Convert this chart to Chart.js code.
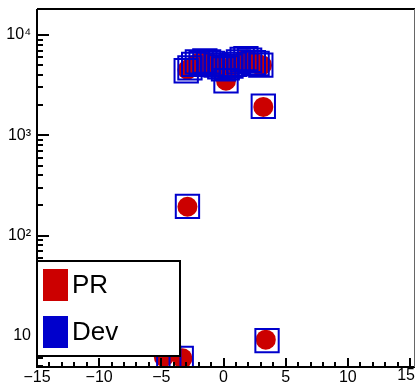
<!DOCTYPE html>
<html lang="en">
<head>
<meta charset="UTF-8">
<title>PR vs Dev</title>
<script src="https://cdn.jsdelivr.net/npm/chart.js"></script>
<style>
  html, body { margin: 0; padding: 0; background: #fff; }
  #grafico { display: block; }
</style>
</head>
<body>
<canvas id="grafico" width="416" height="383"></canvas>
<script>
// dati
const seriesNames = ['PR', 'Dev'];
const prX = [-2.9, -2.6, -2.3, -2.0, -1.7, -1.4, -1.1, -0.8, -0.5, -0.2, 0.1, 0.4, 0.7, 1.0, 1.3, 1.6, 1.9, 2.2, 2.5, 2.8, 3.1,
             0.2, 3.2, -2.9, 3.4, -4.8, -3.3];
const prY = [4500, 4800, 5000, 5300, 5200, 5400, 5300, 5100, 4900, 4700, 4600, 4700, 4900, 5100, 5300, 5600, 5700, 5500, 5300, 5100, 5000,
             3500, 1920, 194, 9.2, 6.2, 6.0];
const devX = [-3.0, -2.7, -2.4, -2.1, -1.8, -1.5, -1.2, -0.9, -0.6, -0.3, 0.0, 0.3, 0.6, 0.9, 1.2, 1.5, 1.8, 2.1, 2.4, 2.7, 3.0,
              0.2, 3.2, -2.9, 3.5, -4.4, -3.4];
const devY = [4400, 4700, 5100, 5400, 5300, 5500, 5400, 5200, 5000, 4800, 4600, 4700, 4900, 5100, 5400, 5700, 5800, 5600, 5300, 5200, 5000,
              3500, 1950, 196, 9.0, 6.0, 6.0];
const xTicks = [-15, -10, -5, 0, 5, 10, 15];
const yTicks = [10, 100, 1000, 10000];
const yTickLabels = ['10', '10\u00B2', '10\u00B3', '10\u2074'];

const RED = 'rgb(204,0,0)';
const BLUE = 'rgb(0,0,204)';
const FONT = '"Liberation Sans", Arial, sans-serif';

function toPoints(xs, ys) {
  return xs.map((x, i) => ({ x: x, y: ys[i] }));
}

function fmtX(v) {
  return String(v).replace('-', '\u2212');
}

// assi, tacche interne e legenda stile ROOT
const stileRoot = {
  id: 'stileRoot',
  afterDatasetsDraw(chart) {
    const ctx = chart.ctx;
    const a = chart.chartArea;
    const xs = chart.scales.x;
    const ys = chart.scales.y;
    ctx.save();
    ctx.strokeStyle = '#000';
    ctx.lineWidth = 2;
    // tacche asse x
    for (let v = -15; v <= 15; v++) {
      const px = Math.round(xs.getPixelForValue(v));
      const len = (v % 5 === 0) ? 9 : 5;
      ctx.beginPath();
      ctx.moveTo(px, a.bottom);
      ctx.lineTo(px, a.bottom - len);
      ctx.stroke();
    }
    // tacche asse y (log)
    for (let d = 1; d <= 10000; d *= 10) {
      for (let m = 1; m <= 9; m++) {
        const v = d * m;
        if (v < ys.min || v > ys.max) continue;
        const py = Math.round(ys.getPixelForValue(v));
        const len = (m === 1) ? 12 : 6;
        ctx.beginPath();
        ctx.moveTo(a.left, py);
        ctx.lineTo(a.left + len, py);
        ctx.stroke();
      }
    }
    // cornice
    ctx.beginPath();
    ctx.moveTo(a.left, a.top);
    ctx.lineTo(a.left, a.bottom);
    ctx.lineTo(a.right, a.bottom);
    ctx.moveTo(a.left, a.top);
    ctx.lineTo(a.right, a.top);
    ctx.stroke();
    ctx.lineWidth = 1;
    ctx.strokeStyle = '#666';
    ctx.beginPath();
    ctx.moveTo(a.right - 0.5, a.top);
    ctx.lineTo(a.right - 0.5, a.bottom);
    ctx.stroke();

    // ultima etichetta x tenuta dentro la tela
    const last = xTicks[xTicks.length - 1];
    ctx.fillStyle = '#000';
    ctx.font = '16px ' + FONT;
    ctx.textAlign = 'right';
    ctx.textBaseline = 'top';
    ctx.fillText(fmtX(last), 415, a.bottom + 1);

    // legenda
    const lx = 37, ly = 261, lw = 143, lh = 95;
    ctx.fillStyle = '#fff';
    ctx.fillRect(lx, ly, lw, lh);
    ctx.strokeStyle = '#000';
    ctx.lineWidth = 2;
    ctx.strokeRect(lx, ly, lw, lh);
    const colors = [RED, BLUE];
    const rowsY = [285, 332];
    ctx.font = '26px ' + FONT;
    ctx.textAlign = 'left';
    ctx.textBaseline = 'middle';
    seriesNames.forEach((name, i) => {
      ctx.fillStyle = colors[i];
      ctx.fillRect(43, rowsY[i] - 16, 25, 32);
      ctx.fillStyle = '#000';
      ctx.fillText(name, 72, rowsY[i] + 1);
    });
    ctx.restore();
  }
};

const grafico = new Chart(document.getElementById('grafico').getContext('2d'), {
  type: 'scatter',
  data: {
    datasets: [
      {
        label: seriesNames[1],
        data: toPoints(devX, devY),
        pointStyle: 'rect',
        pointRadius: 16.5,
        pointBorderWidth: 2,
        borderColor: BLUE,
        backgroundColor: 'rgba(0,0,0,0)',
        order: 0
      },
      {
        label: seriesNames[0],
        data: toPoints(prX, prY),
        pointStyle: 'circle',
        pointRadius: 10,
        pointBorderWidth: 0,
        borderColor: RED,
        backgroundColor: RED,
        order: 1
      }
    ]
  },
  options: {
    responsive: false,
    animation: false,
    layout: { autoPadding: false, padding: { top: 9, right: 1, left: 0, bottom: 0 } },
    plugins: {
      legend: { display: false },
      tooltip: { enabled: false }
    },
    scales: {
      x: {
        type: 'linear',
        min: -15,
        max: 15.4,
        grid: { display: false, drawTicks: false },
        border: { display: false },
        afterBuildTicks: (s) => { s.ticks = xTicks.map(v => ({ value: v })); },
        afterFit: (s) => { s.height = 16; s.paddingLeft = 0; s.paddingRight = 0; },
        ticks: {
          padding: 1,
          maxRotation: 0,
          autoSkip: false,
          color: '#000',
          font: { family: FONT, size: 16 },
          callback: (v) => (v === xTicks[xTicks.length - 1] ? '' : fmtX(v))
        }
      },
      y: {
        type: 'logarithmic',
        min: 4.915,
        max: 18140,
        grid: { display: false, drawTicks: false },
        border: { display: false },
        afterBuildTicks: (s) => { s.ticks = yTicks.map(v => ({ value: v })); },
        afterFit: (s) => { s.width = 37; s.paddingTop = 0; s.paddingBottom = 0; },
        ticks: {
          padding: 6,
          autoSkip: false,
          color: '#000',
          font: { family: FONT, size: 16 },
          callback: (v) => yTickLabels[yTicks.indexOf(v)]
        }
      }
    }
  },
  plugins: [stileRoot]
});
</script>
</body>
</html>
